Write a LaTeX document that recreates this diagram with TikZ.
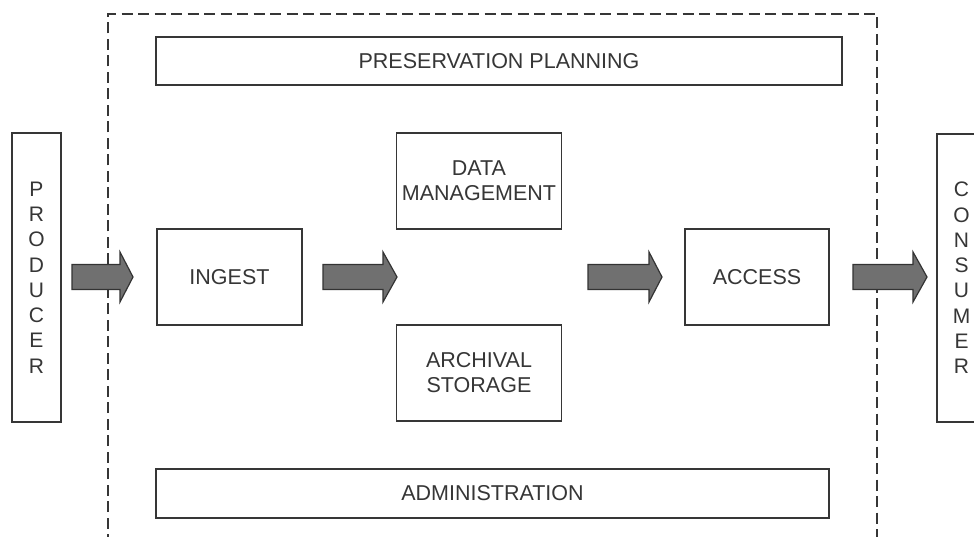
\documentclass[tikz,border=0pt]{standalone}
\usepackage{fontspec}
\setmainfont{Liberation Sans}
\definecolor{ink}{HTML}{363636}
\definecolor{arrowgray}{HTML}{707070}
\begin{document}
\begin{tikzpicture}[x=1pt,y=-1pt,
  box/.style={draw=ink, line width=1.5pt, fill=white, inner sep=0pt, text=ink,
    font=\fontsize{21.5}{25}\selectfont, align=center},
  vbox/.style={box, font=\fontsize{21}{25.3}\selectfont},
  barrow/.style={draw=black!80, line width=1.2pt, fill=arrowgray, line join=miter},
  border/.style={draw=ink, line width=1.7pt, dash pattern=on 11pt off 5.5pt}
]
\useasboundingbox (0,0) rectangle (974,537);
\clip (0,0) rectangle (974,537);

% dashed archive boundary
\coordinate (bl) at (108,545);
\coordinate (tl) at (108,14);
\coordinate (tr) at (877,14);
\coordinate (br) at (877,545);
\draw[border] (bl) -- (tl) -- (tr) -- (br);

% boxes
\node[box, minimum width=686pt, minimum height=48pt] (pp) at (499,61) {PRESERVATION PLANNING};
\node[box, minimum width=673pt, minimum height=49pt] (adm) at (492.5,493.5) {ADMINISTRATION};
\node[vbox, minimum width=49pt, minimum height=289pt] (prod) at (36.5,277.5) {P\\R\\O\\D\\U\\C\\E\\R};
\node[vbox, minimum width=49pt, minimum height=288pt] (cons) at (961.5,278) {C\\O\\N\\S\\U\\M\\E\\R};
\node[box, minimum width=145pt, minimum height=96pt] (ing) at (229.5,277) {INGEST};
\node[box, minimum width=165pt, minimum height=96pt] (dm) at (479,181) {DATA\\MANAGEMENT};
\node[box, minimum width=165pt, minimum height=96pt] (as) at (479,373) {ARCHIVAL\\STORAGE};
\node[box, minimum width=144pt, minimum height=96pt] (acc) at (757,277) {ACCESS};

% block arrows
\draw[barrow] (72,264.5) -- (120,264.5) -- (120,252) -- (133,277) -- (120,302) -- (120,289.5) -- (72,289.5) -- cycle;
\draw[barrow] (323,264.5) -- (383,264.5) -- (383,252) -- (397,277) -- (383,302) -- (383,289.5) -- (323,289.5) -- cycle;
\draw[barrow] (588,264.5) -- (649,264.5) -- (649,252) -- (662,277) -- (649,302) -- (649,289.5) -- (588,289.5) -- cycle;
\draw[barrow] (853,264.5) -- (913,264.5) -- (913,252) -- (927,277) -- (913,302) -- (913,289.5) -- (853,289.5) -- cycle;
\end{tikzpicture}
\end{document}
